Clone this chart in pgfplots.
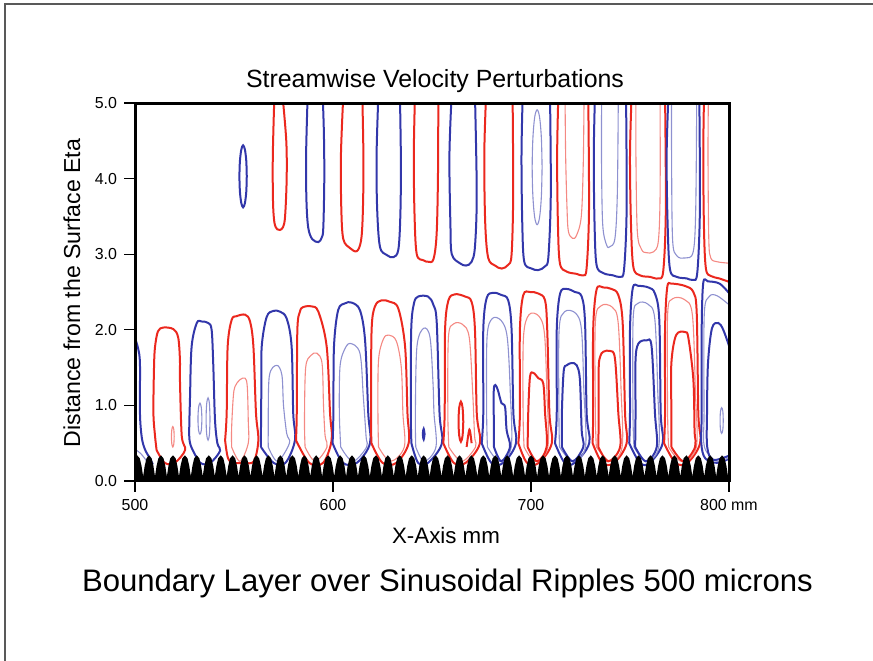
\documentclass[border=0pt]{standalone}
\usepackage{fontspec}
\setmainfont{Liberation Sans}
\usepackage{pgfplots}
\pgfplotsset{compat=1.18}
\definecolor{cred}{RGB}{235,40,30}
\definecolor{cblue}{RGB}{50,55,170}
\pgfplotsset{
  rk/.style={color=cred,line width=1bp,smooth,tension=0.55,mark=none},
  rt/.style={color=cred!55,line width=0.55bp,smooth,tension=0.55,mark=none},
  bk/.style={color=cblue,line width=1bp,smooth,tension=0.55,mark=none},
  bt/.style={color=cblue!55,line width=0.55bp,smooth,tension=0.55,mark=none},
}
\begin{document}
\begin{tikzpicture}
\useasboundingbox (0,0) rectangle (436.5bp,330.5bp);
\draw[color=black!65,line width=1bp] (2.5bp,-2bp) -- (2.5bp,328.5bp) -- (440bp,328.5bp);
\begin{axis}[
  at={(67.5bp,90bp)}, anchor=south west,
  scale only axis, width=297bp, height=189bp,
  xmin=500, xmax=800, ymin=0, ymax=5,
  axis line style={line width=1.5bp},
  axis on top,
  xtick={500,600,700,800}, xticklabels={500,600,700,800 mm},
  ytick={0,1,2,3,4,5},
  yticklabel style={/pgf/number format/fixed,/pgf/number format/fixed zerofill,/pgf/number format/precision=1},
  /pgf/number format/assume math mode=true,
  tick align=outside, xtick pos=bottom, ytick pos=left,
  major tick length=5.5bp,
  tick style={black,line width=0.6bp},
  tick label style={font=\fontsize{8}{9}\selectfont},
]
% ---------- upper fingers ----------
\addplot[bk] coordinates {(556.45,4.03)(556.2,4.235)(555.5,4.385)(554.6,4.44)(553.7,4.385)(553.0,4.235)(552.75,4.03)(553.0,3.825)(553.7,3.675)(554.6,3.62)(555.5,3.675)(556.2,3.825)(556.45,4.03)};
\addplot[rk] coordinates {(570.4,5.1)(569.6,4.3)(569.7,3.7)(570.4,3.42)(571.8,3.33)(573.2,3.32)(574.8,3.36)(575.8,3.5)(576.6,4.0)(576.4,4.5)(574.5,5.1)};
\addplot[bk] coordinates {(587.2,5.1)(586.4,4.3)(586.6,3.7)(587.5,3.35)(589.5,3.2)(592.6,3.16)(594.3,3.22)(595.1,3.35)(595.6,4.0)(595.4,4.6)(594.8,5.1)};
\addplot[rk] coordinates {(605.2,5.1)(604,4.3)(604.2,3.6)(605.2,3.2)(608.6,3.08)(612,3.04)(614.1,3.17)(615,3.5)(615.4,4.2)(614.8,5.1)};
\addplot[bk] coordinates {(622.9,5.1)(622,4.3)(622.3,3.6)(623.7,3.1)(627.1,2.99)(630.5,2.96)(633,3.06)(634,3.5)(634.3,4.2)(633.8,5.1)};
\addplot[rk] coordinates {(641.4,5.1)(640.8,4.3)(641.2,3.5)(642.3,3.0)(645.6,2.92)(648.1,2.9)(650.7,2.93)(652.3,3.25)(653,4.0)(653.2,5.1)};
\addplot[bk] coordinates {(659.9,5.1)(658.8,4.3)(659.3,3.4)(660,3.0)(664.1,2.88)(667.2,2.85)(670,2.9)(671.7,3.1)(672.6,3.8)(671.7,5.1)};
\addplot[rk] coordinates {(677.3,5.1)(676.4,4.3)(676.9,3.4)(678.4,2.95)(681.8,2.85)(685.2,2.81)(688.5,2.86)(690.2,3.0)(691,3.8)(690.7,5.1)};
\addplot[bk] coordinates {(695.8,5.1)(695.2,4.3)(695.6,3.4)(696.6,2.9)(700.3,2.81)(703.7,2.79)(707.1,2.84)(708.8,2.97)(710,3.8)(709.6,5.1)};
\addplot[bt] coordinates {(705.6,4.15)(705.25,4.53)(704.35,4.81)(703.1,4.91)(701.85,4.81)(700.95,4.53)(700.6,4.15)(700.95,3.77)(701.85,3.49)(703.1,3.39)(704.35,3.49)(705.25,3.77)(705.6,4.15)};
\addplot[rk] coordinates {(713.8,5.1)(713.2,4.3)(713.6,3.4)(714.6,2.88)(718,2.77)(723,2.74)(726.4,2.72)(728.1,2.82)(729.3,3.6)(728.9,5.1)};
\addplot[rt] coordinates {(717.2,5.1)(717.5,4.3)(718.2,3.6)(718.9,3.3)(721,3.21)(723,3.25)(725.4,3.5)(726.4,4.2)(726.8,5.1)};
\addplot[bk] coordinates {(732.3,5.1)(731.7,4.3)(732.1,3.4)(733.1,2.86)(736.5,2.75)(741.5,2.72)(745,2.7)(747,2.8)(748.3,3.6)(748,5.1)};
\addplot[bt] coordinates {(735.7,5.1)(735.6,4.3)(736.2,3.4)(738.2,3.12)(739.9,3.1)(742.4,3.21)(743.6,3.8)(744.1,5.1)};
\addplot[rk] coordinates {(750.8,5.1)(750,4.3)(750.5,3.4)(751.7,2.83)(755.1,2.72)(760.1,2.7)(764.3,2.68)(766.8,2.78)(768.1,3.6)(767.7,5.1)};
\addplot[rt] coordinates {(753,5.1)(753,4.3)(753.7,3.3)(755.9,3.06)(758.4,3.02)(761.8,3.03)(764.3,3.17)(765.2,3.8)(765.2,5.1)};
\addplot[bk] coordinates {(769.4,5.1)(768.5,4.3)(769,3.4)(770.2,2.8)(773.6,2.7)(778.6,2.68)(781.9,2.66)(784,2.76)(785.3,3.6)(785,5.1)};
\addplot[bt] coordinates {(771,5.1)(771,4.3)(771.5,3.2)(773.6,2.98)(777.8,2.95)(781.9,3.03)(783.2,3.6)(783.7,5.1)};
\addplot[rk] coordinates {(787.4,5.1)(787.0,4.3)(787.4,3.3)(788.4,2.8)(791,2.71)(795,2.68)(800.5,2.63)};
\addplot[rt] coordinates {(789.6,5.1)(789.4,4.3)(789.8,3.2)(790.8,2.95)(794,2.9)(800.5,2.88)};
% ---------- lower arches ----------
\addplot[bk] coordinates {(500,1.89)(501.6,1.75)(502.5,1.55)(502.5,0.9)(503.4,0.58)(505,0.42)(507.5,0.3)(509,0.22)};
\addplot[bt] coordinates {(500,0.42)(503,0.36)(506,0.26)};
\addplot[rk] coordinates {(510.9,0.41)(510.1,0.6)(509.3,0.9)(509.6,1.5)(510.1,1.77)(511.6,1.98)(514.3,2.03)(519.3,2.01)(521.8,1.9)(522.7,1.6)(522.7,1.34)(523.6,0.6)(525.3,0.41)(520,0.24)(515,0.24)(510.9,0.41)};
\addplot[rt] coordinates {(519.8,0.585)(519.6,0.68)(519.1,0.72)(518.6,0.68)(518.4,0.585)(518.6,0.49)(519.1,0.45)(519.6,0.49)(519.8,0.585)};
\addplot[bk] coordinates {(528.6,0.44)(527.4,0.59)(527.8,1.12)(528.6,1.78)(531.2,2.09)(533.7,2.11)(537.0,2.09)(538.7,2.0)(539.5,1.56)(540.4,0.81)(541.6,0.5)(543,0.4)(538,0.24)(533,0.24)(528.6,0.44)};
\addplot[bt] coordinates {(533.8,0.82)(533.5,0.97)(532.8,1.03)(532.1,0.97)(531.8,0.82)(532.1,0.67)(532.8,0.62)(533.5,0.67)(533.8,0.82)};
\addplot[bt] coordinates {(537.9,0.82)(537.6,1.02)(536.9,1.1)(536.2,1.02)(535.9,0.82)(536.2,0.62)(536.9,0.54)(537.6,0.62)(537.9,0.82)};
\addplot[rk] coordinates {(545.5,0.54)(546.3,0.9)(546.8,1.78)(548.8,2.13)(551.3,2.18)(555.6,2.2)(558.1,2.11)(559.8,1.78)(561.1,0.9)(562.3,0.54)(560,0.26)(555,0.24)(550,0.24)(547,0.3)(545.5,0.54)};
\addplot[rt] coordinates {(548.8,0.45)(548.8,0.7)(549.6,1.1)(550.5,1.25)(553.0,1.34)(555.6,1.36)(556.7,1.25)(557.2,0.8)(557.2,0.5)(553,0.26)(548.8,0.45)};
\addplot[bk] coordinates {(563.6,0.45)(563.6,0.59)(563.8,1.2)(564,1.78)(566.5,2.17)(569.9,2.25)(573.2,2.24)(576.6,2.15)(579.1,1.78)(579.9,0.9)(580.8,0.54)(576,0.24)(570,0.24)(563.6,0.45)};
\addplot[bt] coordinates {(567.3,0.45)(567.3,0.67)(567.8,1.38)(571.6,1.53)(574.2,1.4)(575.0,1.0)(576.6,0.63)(578,0.5)(572,0.26)(567.3,0.45)};
\addplot[rk] coordinates {(581.3,0.54)(581.7,0.9)(582.0,2.0)(583.3,2.24)(584.9,2.3)(589.1,2.31)(592.6,2.24)(596.8,1.78)(598.5,0.9)(599.3,0.54)(595,0.24)(588,0.24)(581.3,0.54)};
\addplot[rt] coordinates {(585.9,0.45)(585.6,0.8)(586.2,1.5)(588.8,1.66)(591.9,1.69)(594.5,1.55)(595.2,1.0)(596,0.6)(597,0.45)(591,0.26)(585.9,0.45)};
\addplot[bk] coordinates {(599.8,0.5)(600.2,0.9)(600.5,1.78)(602.6,2.26)(606.1,2.35)(609.4,2.36)(613.6,2.26)(616.2,1.86)(617.8,0.9)(618.7,0.5)(612,0.24)(605,0.24)(599.8,0.5)};
\addplot[bt] coordinates {(603.9,0.45)(603.2,0.9)(603.5,1.5)(605.5,1.72)(608.6,1.82)(613.6,1.69)(615.3,1.12)(616.7,0.59)(617,0.45)(610,0.26)(603.9,0.45)};
\addplot[rk] coordinates {(619.4,0.5)(619.2,0.9)(619.5,2.0)(621.2,2.31)(624.5,2.39)(628.8,2.37)(633.0,2.28)(636.4,1.78)(637.6,0.9)(638.2,0.5)(632,0.24)(625,0.24)(619.4,0.5)};
\addplot[rt] coordinates {(623,0.45)(622.7,0.9)(623,1.6)(625.5,1.88)(628.3,1.93)(632,1.85)(634.5,1.5)(635.3,0.9)(636,0.45)(629,0.26)(623,0.45)};
\addplot[bk] coordinates {(639.6,0.5)(639.3,0.9)(639.5,2.0)(640.9,2.35)(643,2.44)(648,2.44)(650.7,2.33)(652.4,2.09)(653.8,0.9)(655,0.5)(648,0.24)(643,0.24)(639.6,0.5)};
\addplot[bt] coordinates {(641.8,0.45)(641.6,0.9)(642.4,1.78)(645.8,2.02)(649,1.9)(650.5,1.3)(651,0.9)(652,0.45)(646,0.26)(641.8,0.45)};
\addplot[bk] coordinates {(646.25,0.62)(645.8,0.69)(645.35,0.62)(645.8,0.55)(646.25,0.62)};
\addplot[rk] coordinates {(655.7,0.5)(656.4,0.9)(656.6,2.0)(658.3,2.39)(661.6,2.47)(666.7,2.44)(670,2.37)(671.7,2.0)(672.6,0.9)(674.2,0.5)(667,0.24)(661,0.24)(655.7,0.5)};
\addplot[rt] coordinates {(658.5,0.45)(658,0.9)(658.3,1.9)(661,2.08)(665.5,2.07)(668.8,1.9)(670.5,1.2)(671.5,0.6)(672,0.45)(665,0.26)(658.5,0.45)};
\addplot[rk] coordinates {(665.8,0.785)(665.45,0.97)(664.6,1.05)(663.75,0.97)(663.4,0.785)(663.75,0.6)(664.6,0.52)(665.45,0.6)(665.8,0.785)};
\addplot[rk] coordinates {(667.5,0.45)(668.9,0.68)(670,0.5)};
\addplot[bk] coordinates {(675.1,0.5)(675.9,0.9)(675.9,2.0)(677.6,2.42)(680.9,2.49)(685.1,2.46)(688.5,2.39)(690.2,2.0)(691.1,0.9)(692.4,0.5)(686,0.24)(680,0.24)(675.1,0.5)};
\addplot[bt] coordinates {(678,0.45)(677.6,0.9)(677.8,1.9)(680.5,2.15)(685,2.12)(688,1.9)(689.5,1.2)(690,0.45)(684,0.26)(678,0.45)};
\addplot[bk] coordinates {(681.3,0.45)(681.2,0.81)(681.2,1.2)(682.0,1.27)(683.3,1.2)(685.1,1.03)(686.9,0.98)(687.7,0.67)(689.4,0.45)(685,0.26)(681.3,0.45)};
\addplot[rk] coordinates {(693.6,0.5)(694.4,0.9)(694.4,2.0)(696.1,2.46)(699.5,2.5)(703.7,2.48)(707.1,2.39)(708.2,2.0)(709.3,0.9)(710.5,0.5)(704,0.24)(698,0.24)(693.6,0.5)};
\addplot[rt] coordinates {(696.5,0.45)(696,0.9)(696.2,1.9)(699,2.2)(704,2.18)(706.8,1.95)(708,1.2)(708.5,0.45)(702,0.26)(696.5,0.45)};
\addplot[rk] coordinates {(698.3,0.45)(698.6,0.9)(699.5,1.38)(701.2,1.43)(703.7,1.36)(706.2,1.29)(707.1,0.9)(707.9,0.45)(703,0.26)(698.3,0.45)};
\addplot[bk] coordinates {(712.1,0.5)(713,0.9)(713,2.0)(714.7,2.48)(718.0,2.54)(722.2,2.5)(725.6,2.44)(727.3,2.09)(728.1,0.9)(729.4,0.5)(722,0.24)(717,0.24)(712.1,0.5)};
\addplot[bt] coordinates {(714.4,0.45)(714.1,0.9)(714.2,2.0)(717,2.24)(722.5,2.22)(725.5,2.0)(726.7,1.2)(727.5,0.45)(721,0.26)(714.4,0.45)};
\addplot[bk] coordinates {(715.6,0.45)(715.6,0.9)(716.5,1.45)(718,1.53)(720.5,1.56)(723.1,1.53)(724.7,1.34)(725.6,0.67)(726.4,0.45)(721,0.26)(715.6,0.45)};
\addplot[rk] coordinates {(731.1,0.5)(731.4,0.9)(731.4,2.0)(733.1,2.53)(736.5,2.56)(740.7,2.54)(744.1,2.46)(746.3,2.09)(747.5,0.9)(748.3,0.5)(742,0.24)(736,0.24)(731.1,0.5)};
\addplot[rt] coordinates {(733.0,0.45)(732.5,0.9)(732.5,2.1)(735.5,2.32)(741,2.3)(744,2.1)(745.5,1.2)(746,0.45)(740,0.26)(733.0,0.45)};
\addplot[rk] coordinates {(734.0,0.45)(734.2,0.9)(734.2,1.5)(735,1.65)(736.5,1.71)(739.9,1.72)(742.4,1.62)(744.1,0.9)(745.0,0.45)(739,0.26)(734.0,0.45)};
\addplot[bk] coordinates {(749.6,0.5)(750,0.9)(750,2.0)(751.4,2.55)(754.3,2.58)(759.3,2.56)(762.6,2.48)(764.8,2.13)(765.5,0.9)(766.5,0.5)(760,0.24)(755,0.24)(749.6,0.5)};
\addplot[bt] coordinates {(752,0.45)(751.5,0.9)(751.6,2.15)(754,2.35)(759,2.34)(762.5,2.15)(764,1.2)(764.5,0.45)(758,0.26)(752,0.45)};
\addplot[bk] coordinates {(752.6,0.45)(752.8,0.9)(752.8,1.6)(754.3,1.82)(758.4,1.86)(760.9,1.78)(762.6,0.9)(763.5,0.45)(758,0.26)(752.6,0.45)};
\addplot[rk] coordinates {(767.2,0.5)(767.7,0.9)(767.7,2.0)(768.8,2.56)(771,2.61)(777.8,2.58)(782,2.5)(783.7,2.22)(784.5,0.9)(785.4,0.5)(779,0.24)(773,0.24)(767.2,0.5)};
\addplot[rt] coordinates {(769.5,0.45)(769,0.9)(769,2.2)(771.5,2.41)(777.5,2.4)(781.5,2.2)(783,1.2)(783.5,0.45)(776,0.26)(769.5,0.45)};
\addplot[rk] coordinates {(770.9,0.45)(770.9,0.9)(770.9,1.56)(773.3,1.93)(777.8,1.97)(779.5,1.89)(782,1.34)(782.6,0.67)(782.9,0.45)(777,0.26)(770.9,0.45)};
\addplot[bk] coordinates {(800.5,0.3)(794,0.24)(788,0.3)(786,0.5)(786.2,0.9)(786.2,2.0)(787,2.62)(789.4,2.64)(795.3,2.61)(800.5,2.47)};
\addplot[bt] coordinates {(800.5,0.32)(794,0.26)(787.6,0.45)(787.4,0.9)(787.5,2.2)(790,2.44)(794,2.45)(800.5,2.32)};
\addplot[bk] coordinates {(800.5,0.34)(792,0.28)(789,0.45)(788.9,0.9)(789.4,1.56)(791.4,2.02)(794.6,2.09)(797.1,2.0)(800.5,1.75)};
\addplot[bt] coordinates {(797.1,0.8)(796.9,0.92)(796.3,0.97)(795.7,0.92)(795.5,0.8)(795.7,0.68)(796.3,0.63)(796.9,0.68)(797.1,0.8)};
% ---------- sinusoidal ripples (surface profile) ----------
\addplot[fill=black,draw=none,sharp plot] coordinates {
(498.8,0.20)(499.7,0.30)
(501.1,0.34)(502.4,0.30)(503.3,0.20)(504.1,0.06)(504.9,0.20)(505.8,0.30)
(507.1,0.34)(508.4,0.30)(509.3,0.20)(510.1,0.06)(510.9,0.20)(511.8,0.30)
(513.1,0.34)(514.4,0.30)(515.3,0.20)(516.1,0.06)(516.9,0.20)(517.8,0.30)
(519.2,0.34)(520.5,0.30)(521.4,0.20)(522.2,0.06)(523.0,0.20)(523.9,0.30)
(525.2,0.34)(526.5,0.30)(527.4,0.20)(528.2,0.06)(529.0,0.20)(529.9,0.30)
(531.2,0.34)(532.5,0.30)(533.4,0.20)(534.2,0.06)(535.0,0.20)(535.9,0.30)
(537.3,0.34)(538.6,0.30)(539.5,0.20)(540.3,0.06)(541.1,0.20)(542.0,0.30)
(543.3,0.34)(544.6,0.30)(545.5,0.20)(546.3,0.06)(547.1,0.20)(548.0,0.30)
(549.3,0.34)(550.6,0.30)(551.5,0.20)(552.3,0.06)(553.1,0.20)(554.0,0.30)
(555.3,0.34)(556.6,0.30)(557.5,0.20)(558.3,0.06)(559.1,0.20)(560.0,0.30)
(561.4,0.34)(562.7,0.30)(563.6,0.20)(564.4,0.06)(565.2,0.20)(566.1,0.30)
(567.4,0.34)(568.7,0.30)(569.6,0.20)(570.4,0.06)(571.2,0.20)(572.1,0.30)
(573.4,0.34)(574.7,0.30)(575.6,0.20)(576.4,0.06)(577.2,0.20)(578.1,0.30)
(579.5,0.34)(580.8,0.30)(581.7,0.20)(582.5,0.06)(583.3,0.20)(584.2,0.30)
(585.5,0.34)(586.8,0.30)(587.7,0.20)(588.5,0.06)(589.3,0.20)(590.2,0.30)
(591.5,0.34)(592.8,0.30)(593.7,0.20)(594.5,0.06)(595.3,0.20)(596.2,0.30)
(597.6,0.34)(598.9,0.30)(599.8,0.20)(600.6,0.06)(601.4,0.20)(602.3,0.30)
(603.6,0.34)(604.9,0.30)(605.8,0.20)(606.6,0.06)(607.4,0.20)(608.3,0.30)
(609.6,0.34)(610.9,0.30)(611.8,0.20)(612.6,0.06)(613.4,0.20)(614.3,0.30)
(615.6,0.34)(616.9,0.30)(617.8,0.20)(618.6,0.06)(619.4,0.20)(620.3,0.30)
(621.7,0.34)(623.0,0.30)(623.9,0.20)(624.7,0.06)(625.5,0.20)(626.4,0.30)
(627.7,0.34)(629.0,0.30)(629.9,0.20)(630.7,0.06)(631.5,0.20)(632.4,0.30)
(633.7,0.34)(635.0,0.30)(635.9,0.20)(636.7,0.06)(637.5,0.20)(638.4,0.30)
(639.8,0.34)(641.1,0.30)(642.0,0.20)(642.8,0.06)(643.6,0.20)(644.5,0.30)
(645.8,0.34)(647.1,0.30)(648.0,0.20)(648.8,0.06)(649.6,0.20)(650.5,0.30)
(651.8,0.34)(653.1,0.30)(654.0,0.20)(654.8,0.06)(655.6,0.20)(656.5,0.30)
(657.9,0.34)(659.2,0.30)(660.1,0.20)(660.9,0.06)(661.7,0.20)(662.6,0.30)
(663.9,0.34)(665.2,0.30)(666.1,0.20)(666.9,0.06)(667.7,0.20)(668.6,0.30)
(669.9,0.34)(671.2,0.30)(672.1,0.20)(672.9,0.06)(673.7,0.20)(674.6,0.30)
(675.9,0.34)(677.2,0.30)(678.1,0.20)(678.9,0.06)(679.7,0.20)(680.6,0.30)
(682.0,0.34)(683.3,0.30)(684.2,0.20)(685.0,0.06)(685.8,0.20)(686.7,0.30)
(688.0,0.34)(689.3,0.30)(690.2,0.20)(691.0,0.06)(691.8,0.20)(692.7,0.30)
(694.0,0.34)(695.3,0.30)(696.2,0.20)(697.0,0.06)(697.8,0.20)(698.7,0.30)
(700.1,0.34)(701.4,0.30)(702.3,0.20)(703.1,0.06)(703.9,0.20)(704.8,0.30)
(706.1,0.34)(707.4,0.30)(708.3,0.20)(709.1,0.06)(709.9,0.20)(710.8,0.30)
(712.1,0.34)(713.4,0.30)(714.3,0.20)(715.1,0.06)(715.9,0.20)(716.8,0.30)
(718.2,0.34)(719.5,0.30)(720.4,0.20)(721.2,0.06)(722.0,0.20)(722.9,0.30)
(724.2,0.34)(725.5,0.30)(726.4,0.20)(727.2,0.06)(728.0,0.20)(728.9,0.30)
(730.2,0.34)(731.5,0.30)(732.4,0.20)(733.2,0.06)(734.0,0.20)(734.9,0.30)
(736.2,0.34)(737.5,0.30)(738.4,0.20)(739.2,0.06)(740.0,0.20)(740.9,0.30)
(742.3,0.34)(743.6,0.30)(744.5,0.20)(745.3,0.06)(746.1,0.20)(747.0,0.30)
(748.3,0.34)(749.6,0.30)(750.5,0.20)(751.3,0.06)(752.1,0.20)(753.0,0.30)
(754.3,0.34)(755.6,0.30)(756.5,0.20)(757.3,0.06)(758.1,0.20)(759.0,0.30)
(760.4,0.34)(761.7,0.30)(762.6,0.20)(763.4,0.06)(764.2,0.20)(765.1,0.30)
(766.4,0.34)(767.7,0.30)(768.6,0.20)(769.4,0.06)(770.2,0.20)(771.1,0.30)
(772.4,0.34)(773.7,0.30)(774.6,0.20)(775.4,0.06)(776.2,0.20)(777.1,0.30)
(778.5,0.34)(779.8,0.30)(780.7,0.20)(781.5,0.06)(782.3,0.20)(783.2,0.30)
(784.5,0.34)(785.8,0.30)(786.7,0.20)(787.5,0.06)(788.3,0.20)(789.2,0.30)
(790.5,0.34)(791.8,0.30)(792.7,0.20)(793.5,0.06)(794.3,0.20)(795.2,0.30)
(796.5,0.34)(797.8,0.30)(798.7,0.20)(799.5,0.06)(800.3,0.20)(801.2,0.30)
} \closedcycle;
\end{axis}
\node[anchor=base,font=\fontsize{12.5}{14}\selectfont] at (217.5bp,286.5bp) {Streamwise Velocity Perturbations};
\node[anchor=base,rotate=90,font=\fontsize{11.6}{13}\selectfont] at (40bp,184bp) {Distance from the Surface Eta};
\node[anchor=base,font=\fontsize{11.2}{13}\selectfont] at (223bp,58.5bp) {X-Axis mm};
\node[anchor=base,font=\fontsize{15.6}{18}\selectfont] at (223.75bp,35bp) {Boundary Layer over Sinusoidal Ripples 500 microns};
\end{tikzpicture}
\end{document}
